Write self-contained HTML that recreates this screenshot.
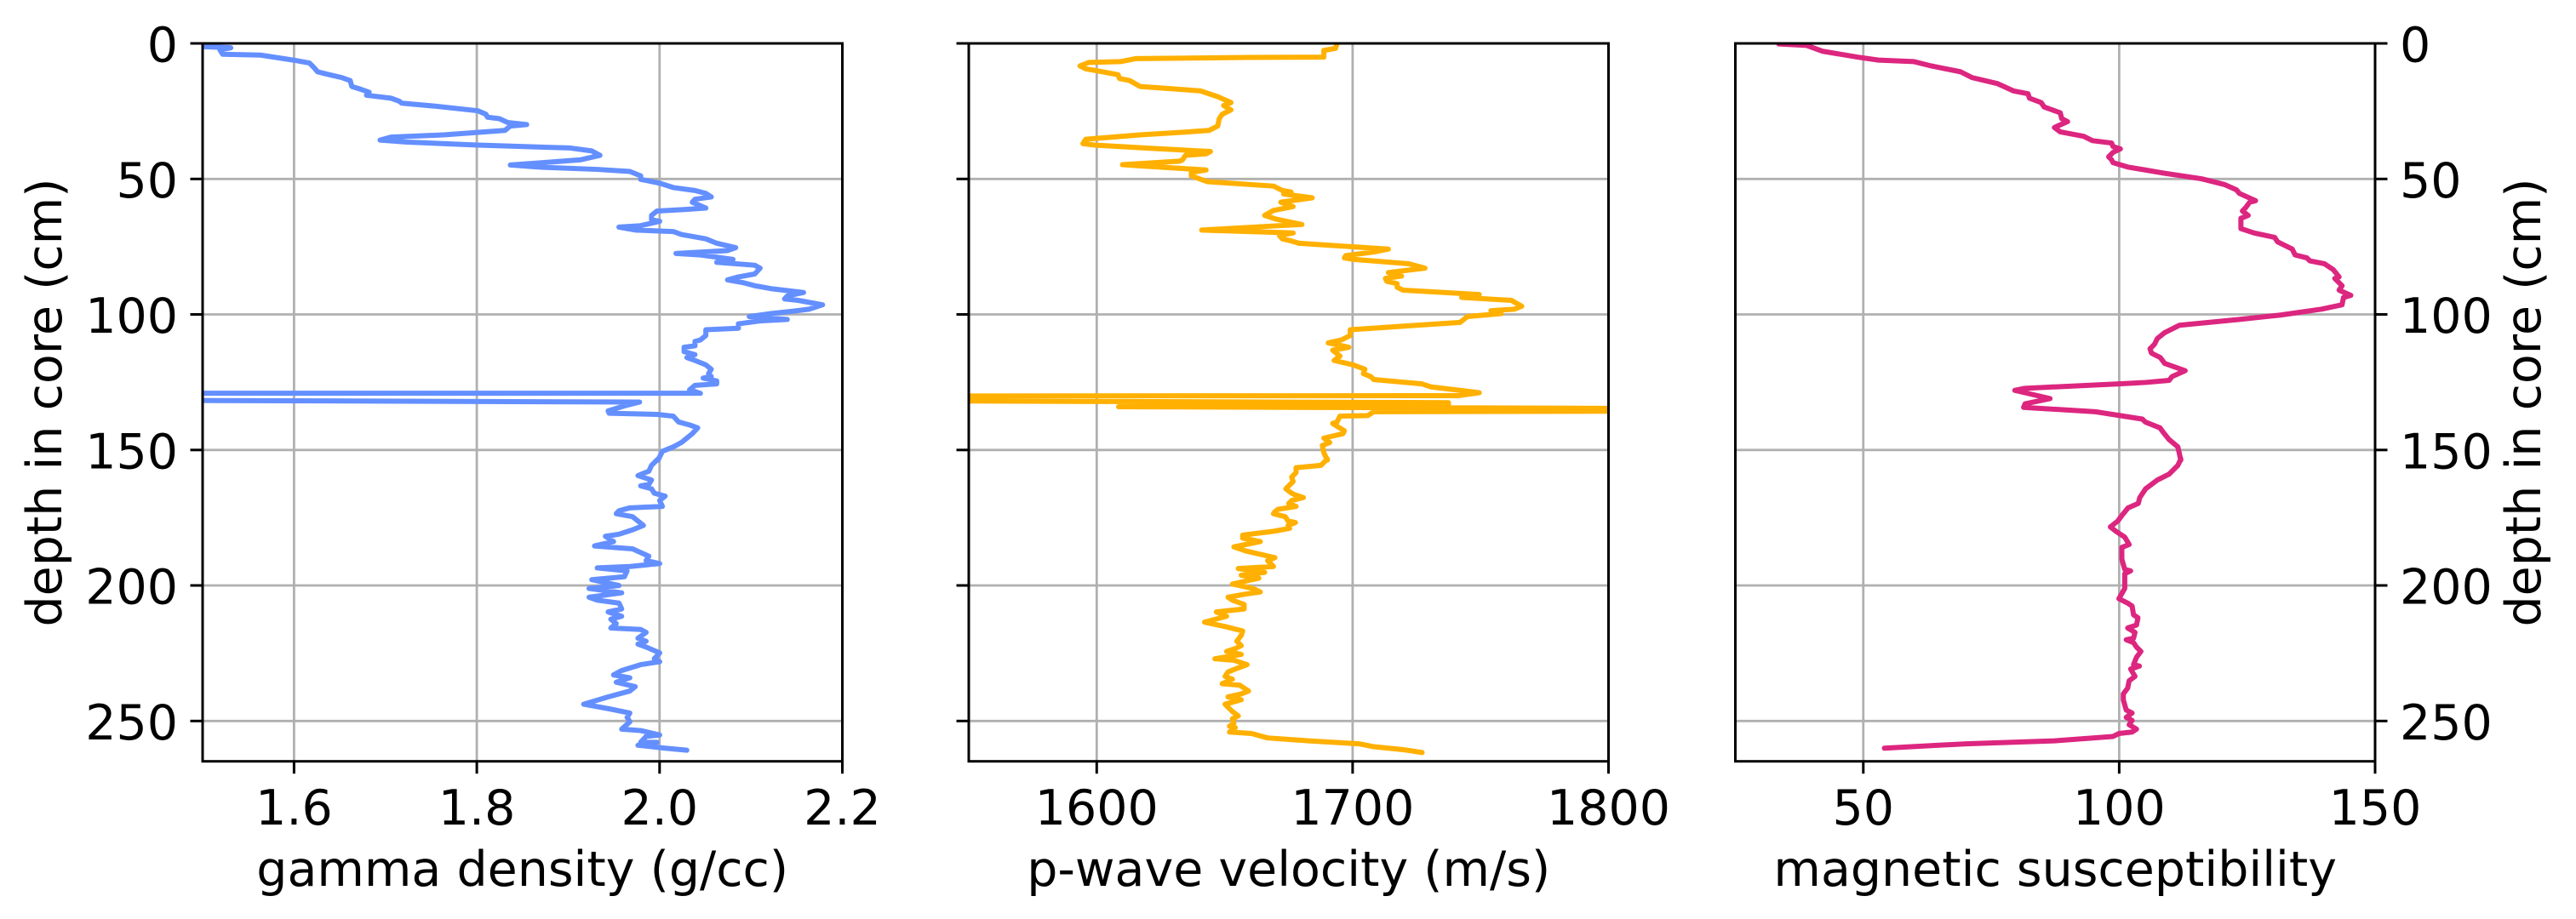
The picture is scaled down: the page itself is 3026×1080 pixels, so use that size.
<!DOCTYPE html>
<html>
<head>
<meta charset="utf-8">
<style>
html,body{margin:0;padding:0;background:#fff;}
svg{display:block;}
text{font-family:"DejaVu Sans","Liberation Sans",sans-serif;font-size:57px;fill:#000;}
.grid{stroke:#b0b0b0;stroke-width:2.8;}
.tick{stroke:#000;stroke-width:3;}
.spine{fill:none;stroke:#000;stroke-width:3;}
.d{fill:none;stroke-width:6;stroke-linejoin:round;stroke-linecap:round;vector-effect:non-scaling-stroke;}
</style>
</head>
<body>
<svg width="3026" height="1080" viewBox="0 0 3026 1080" xmlns="http://www.w3.org/2000/svg">
<defs>
<clipPath id="c1"><rect x="238" y="51" width="751.5" height="843.7"/></clipPath>
<clipPath id="c2"><rect x="1138" y="51" width="751.5" height="843.7"/></clipPath>
<clipPath id="c3"><rect x="2038.5" y="51" width="751.5" height="843.7"/></clipPath>
</defs>

<!-- grids -->
<g class="grid">
  <line x1="345.4" y1="51" x2="345.4" y2="894.7"/>
  <line x1="560.1" y1="51" x2="560.1" y2="894.7"/>
  <line x1="774.8" y1="51" x2="774.8" y2="894.7"/>
  <line x1="238" y1="210.3" x2="989.5" y2="210.3"/>
  <line x1="238" y1="369.5" x2="989.5" y2="369.5"/>
  <line x1="238" y1="528.8" x2="989.5" y2="528.8"/>
  <line x1="238" y1="688" x2="989.5" y2="688"/>
  <line x1="238" y1="847.3" x2="989.5" y2="847.3"/>
  <line x1="1288.3" y1="51" x2="1288.3" y2="894.7"/>
  <line x1="1588.9" y1="51" x2="1588.9" y2="894.7"/>
  <line x1="1138" y1="210.3" x2="1889.5" y2="210.3"/>
  <line x1="1138" y1="369.5" x2="1889.5" y2="369.5"/>
  <line x1="1138" y1="528.8" x2="1889.5" y2="528.8"/>
  <line x1="1138" y1="688" x2="1889.5" y2="688"/>
  <line x1="1138" y1="847.3" x2="1889.5" y2="847.3"/>
  <line x1="2188.8" y1="51" x2="2188.8" y2="894.7"/>
  <line x1="2489.4" y1="51" x2="2489.4" y2="894.7"/>
  <line x1="2038.5" y1="210.3" x2="2790" y2="210.3"/>
  <line x1="2038.5" y1="369.5" x2="2790" y2="369.5"/>
  <line x1="2038.5" y1="528.8" x2="2790" y2="528.8"/>
  <line x1="2038.5" y1="688" x2="2790" y2="688"/>
  <line x1="2038.5" y1="847.3" x2="2790" y2="847.3"/>
</g>

<!-- gamma density -->
<g clip-path="url(#c1)">
 <g transform="scale(0.6378,0.3444)">
  <polyline class="d" stroke="#648FFF" points="360,158 425,163 405,170 410,185 480,188 540,205 570,215 578,230 585,245 600,252 630,265 645,275 648,295 665,305 680,315 675,325 720,335 735,345 740,352 800,362 880,378 895,390 898,400 920,405 935,418 970,425 940,430 930,445 820,460 720,468 700,478 750,485 880,495 1050,505 1090,515 1105,530 1070,545 1000,555 940,563 990,570 1100,578 1160,585 1180,600 1180,612 1215,625 1240,640 1280,650 1300,660 1310,672 1280,680 1275,690 1300,710 1260,715 1210,720 1200,735 1200,750 1215,755 1180,770 1140,775 1170,785 1240,790 1255,800 1300,815 1320,830 1355,845 1340,855 1245,865 1290,870 1330,880 1350,885 1320,895 1390,905 1400,915 1390,935 1360,945 1340,955 1370,965 1390,975 1420,985 1480,998 1450,1010 1445,1020 1470,1025 1515,1040 1490,1055 1460,1062 1420,1070 1380,1080 1450,1090 1400,1095 1360,1105 1360,1120 1300,1125 1300,1145 1290,1160 1280,1165 1280,1180 1260,1185 1260,1200 1280,1210 1265,1220 1280,1230 1300,1245 1310,1260 1305,1275 1310,1285 1295,1290 1320,1300 1320,1310 1280,1315 1270,1330 1290,1342 -300,1342 -300,1362 1178,1372 1150,1385 1120,1402 1122,1410 1210,1414 1240,1420 1250,1440 1270,1450 1285,1460 1275,1480 1265,1495 1255,1510 1240,1525 1220,1540 1212,1570"/>
 </g>
 <g transform="translate(0,540) scale(0.6378,0.3444)">
  <polyline class="d" stroke="#648FFF" points="1212,-2 1200,20 1195,40 1175,55 1200,70 1195,85 1180,90 1200,100 1205,115 1225,125 1215,140 1220,160 1160,165 1140,175 1135,185 1165,195 1175,210 1185,225 1165,240 1140,255 1115,262 1130,280 1095,295 1165,305 1195,330 1190,345 1215,355 1160,365 1100,370 1155,380 1150,400 1090,410 1140,430 1085,440 1145,455 1085,470 1100,480 1140,490 1145,510 1120,520 1145,535 1125,545 1135,560 1125,575 1180,580 1190,590 1175,610 1190,620 1175,630 1190,640 1215,660 1205,680 1215,690 1180,700 1145,720 1130,735 1160,745 1135,760 1170,775 1160,790 1120,810 1075,835 1120,850 1160,865 1155,880 1160,895 1145,920 1180,925 1215,940 1190,945 1180,965 1210,965 1175,975 1225,985 1265,992"/>
 </g>
</g>

<!-- p-wave velocity -->
<g clip-path="url(#c2)">
 <g transform="translate(1500,0) scale(0.3444)">
  <polyline class="d" stroke="#FFB000" points="205,148 200,165 160,172 160,195 -100,196"/>
 </g>
 <g transform="translate(1000,0) scale(0.3444)">
  <polyline class="d" stroke="#FFB000" points="1352,196 970,200 920,210 810,213 780,225 800,235 830,240 910,255 915,268 950,275 985,295 1190,310 1250,330 1295,350 1270,360 1295,375 1265,390 1255,405 1250,430 1220,445 1150,450 990,460 800,475 790,490 830,495 1000,505 1225,517 1210,525 1140,530 1130,545 1120,550 925,562 1000,567 1130,575 1210,580 1160,588 1160,600 1215,620 1440,635 1470,650 1500,655 1475,662 1572,675 1465,690 1507,705 1440,718 1410,735 1450,748 1537,766 1460,770 1195,785 1507,795 1460,803 1470,815 1500,822 1527,830"/>
 </g>
 <g transform="translate(1500,0) scale(0.3444)">
  <polyline class="d" stroke="#FFB000" points="75,830 380,850 330,860 235,872 230,880 260,885 450,900 505,915 380,930 425,942 370,950 375,960 410,968 410,980 430,990 690,1005 630,1015 800,1025 835,1045 810,1055 730,1060 765,1070 650,1080 625,1100 250,1125 250,1145 220,1160 175,1170 245,1185 190,1195 215,1215 195,1230 260,1245 300,1260 295,1275 320,1285 330,1295 495,1310 525,1320 690,1340 620,1350 -2000,1352 -2000,1365 585,1374 585,1386 -540,1388 2000,1396 2000,1401 330,1405 310,1418 215,1420 205,1440 190,1445 230,1470 225,1480 160,1495 180,1510 155,1520 160,1545 172,1570"/>
 </g>
 <g transform="translate(1000,540) scale(0.3444)">
  <polyline class="d" stroke="#FFB000" points="1624,-2 1602,20 1517,28 1517,45 1502,60 1507,75 1482,100 1502,115 1512,120 1542,130 1502,140 1492,150 1517,160 1455,170 1445,178 1440,185 1480,195 1490,210 1515,215 1490,225 1495,235 1440,245 1335,258 1335,268 1395,280 1345,290 1305,298 1345,312 1445,335 1420,345 1440,365 1320,372 1410,385 1330,395 1390,405 1300,425 1370,440 1395,452 1340,460 1285,470 1300,480 1340,495 1340,510 1245,520 1280,535 1205,555 1275,570 1335,585 1330,600 1315,620 1330,635 1310,645 1280,655 1330,665 1240,680 1305,685 1350,700 1310,715 1285,725 1275,740 1300,750 1265,765 1325,770 1355,790 1330,800 1285,810 1330,820 1275,835 1300,860 1320,875 1300,885 1305,900 1290,910 1310,915 1290,930 1365,935 1420,950 1560,960 1732,970 1782,980 1882,990 1947,1000"/>
 </g>
</g>

<!-- magnetic susceptibility -->
<g clip-path="url(#c3)">
 <g transform="translate(2000,0) scale(0.3444)">
  <polyline class="d" stroke="#DC267F" points="260,150 355,155 410,175 530,195 600,205 720,210 780,225 880,245 920,265 1005,285 1060,310 1110,320 1115,335 1155,350 1165,365 1220,385 1225,405 1245,415 1200,435 1220,450 1300,465 1330,480 1395,488 1400,500 1425,508 1400,520 1385,535 1395,545 1400,555 1450,570 1510,580 1568,590"/>
 </g>
 <g transform="translate(2486,0) scale(0.3444)">
  <polyline class="d" stroke="#DC267F" points="157,590 210,598 290,610 370,630 410,648 420,660 475,685 455,690 440,710 430,720 450,735 425,745 425,780 470,795 540,810 550,825 600,850 610,870 650,880 660,890 710,900 740,920 760,945 745,950 770,975 760,990 800,1008 775,1015 770,1040 700,1055 560,1075 420,1090 215,1110 165,1135 140,1155 130,1175 115,1190 120,1205 150,1220 165,1240 235,1265 190,1285 180,1298 100,1305 9,1310"/>
 </g>
 <g transform="translate(2000,0) scale(0.3444)">
  <polyline class="d" stroke="#DC267F" points="1420,1310 1100,1325 1065,1332 1185,1360 1100,1378 1095,1390 1340,1405 1500,1430 1510,1440 1560,1460"/>
 </g>
 <g transform="translate(2486,0) scale(0.3444)">
  <polyline class="d" stroke="#DC267F" points="149,1460 160,1475 180,1500 210,1525 220,1570"/>
 </g>
 <g transform="translate(2486,540) scale(0.3444)">
  <polyline class="d" stroke="#DC267F" points="220,-2 210,20 180,50 140,70 100,100 80,130 75,150 40,165 20,190 5,210 -20,230"/>
 </g>
 <g transform="translate(2000,540) scale(0.3444)">
  <polyline class="d" stroke="#DC267F" points="1391,230 1410,245 1440,265 1455,290 1430,300 1430,340 1440,375 1460,380 1440,390 1440,440 1420,475 1450,490 1465,500 1470,530 1485,540 1480,565 1450,575 1475,590 1470,610 1445,615 1470,625 1480,640 1495,655 1480,675 1470,700 1490,705 1460,715 1475,740 1455,755 1450,780 1435,800 1435,820 1445,855 1465,865 1445,880 1465,890 1455,905 1480,920 1465,930 1420,935 1400,945 1200,960 900,970 620,985"/>
 </g>
</g>

<!-- spines -->
<rect class="spine" x="238" y="51" width="751.5" height="843.7"/>
<rect class="spine" x="1138" y="51" width="751.5" height="843.7"/>
<rect class="spine" x="2038.5" y="51" width="751.5" height="843.7"/>

<!-- ticks -->
<g class="tick">
  <line x1="223.5" y1="51" x2="238" y2="51"/>
  <line x1="223.5" y1="210.3" x2="238" y2="210.3"/>
  <line x1="223.5" y1="369.5" x2="238" y2="369.5"/>
  <line x1="223.5" y1="528.8" x2="238" y2="528.8"/>
  <line x1="223.5" y1="688" x2="238" y2="688"/>
  <line x1="223.5" y1="847.3" x2="238" y2="847.3"/>
  <line x1="345.4" y1="894.7" x2="345.4" y2="909.2"/>
  <line x1="560.1" y1="894.7" x2="560.1" y2="909.2"/>
  <line x1="774.8" y1="894.7" x2="774.8" y2="909.2"/>
  <line x1="989.5" y1="894.7" x2="989.5" y2="909.2"/>
  <line x1="1123.5" y1="51" x2="1138" y2="51"/>
  <line x1="1123.5" y1="210.3" x2="1138" y2="210.3"/>
  <line x1="1123.5" y1="369.5" x2="1138" y2="369.5"/>
  <line x1="1123.5" y1="528.8" x2="1138" y2="528.8"/>
  <line x1="1123.5" y1="688" x2="1138" y2="688"/>
  <line x1="1123.5" y1="847.3" x2="1138" y2="847.3"/>
  <line x1="1288.3" y1="894.7" x2="1288.3" y2="909.2"/>
  <line x1="1588.9" y1="894.7" x2="1588.9" y2="909.2"/>
  <line x1="1889.5" y1="894.7" x2="1889.5" y2="909.2"/>
  <line x1="2790" y1="51" x2="2804.5" y2="51"/>
  <line x1="2790" y1="210.3" x2="2804.5" y2="210.3"/>
  <line x1="2790" y1="369.5" x2="2804.5" y2="369.5"/>
  <line x1="2790" y1="528.8" x2="2804.5" y2="528.8"/>
  <line x1="2790" y1="688" x2="2804.5" y2="688"/>
  <line x1="2790" y1="847.3" x2="2804.5" y2="847.3"/>
  <line x1="2188.8" y1="894.7" x2="2188.8" y2="909.2"/>
  <line x1="2489.4" y1="894.7" x2="2489.4" y2="909.2"/>
  <line x1="2790" y1="894.7" x2="2790" y2="909.2"/>
</g>

<g text-anchor="end">
  <text x="209" y="72.5">0</text>
  <text x="209" y="231.8">50</text>
  <text x="209" y="391">100</text>
  <text x="209" y="550.3">150</text>
  <text x="209" y="709.5">200</text>
  <text x="209" y="868.8">250</text>
</g>
<g text-anchor="start">
  <text x="2819" y="72.5">0</text>
  <text x="2819" y="231.8">50</text>
  <text x="2819" y="391">100</text>
  <text x="2819" y="550.3">150</text>
  <text x="2819" y="709.5">200</text>
  <text x="2819" y="868.8">250</text>
</g>

<g text-anchor="middle">
  <text x="345.4" y="969">1.6</text>
  <text x="560.1" y="969">1.8</text>
  <text x="774.8" y="969">2.0</text>
  <text x="989.5" y="969">2.2</text>
  <text x="1288.3" y="969">1600</text>
  <text x="1588.9" y="969">1700</text>
  <text x="1889.5" y="969">1800</text>
  <text x="2188.8" y="969">50</text>
  <text x="2489.4" y="969">100</text>
  <text x="2790" y="969">150</text>
</g>

<g text-anchor="middle">
  <text x="613.7" y="1041">gamma density (g/cc)</text>
  <text x="1513.7" y="1041">p-wave velocity (m/s)</text>
  <text x="2414.2" y="1041">magnetic susceptibility</text>
  <text transform="translate(72,473) rotate(-90)">depth in core (cm)</text>
  <text transform="translate(2984,473) rotate(-90)">depth in core (cm)</text>
</g>
</svg>
</body>
</html>
